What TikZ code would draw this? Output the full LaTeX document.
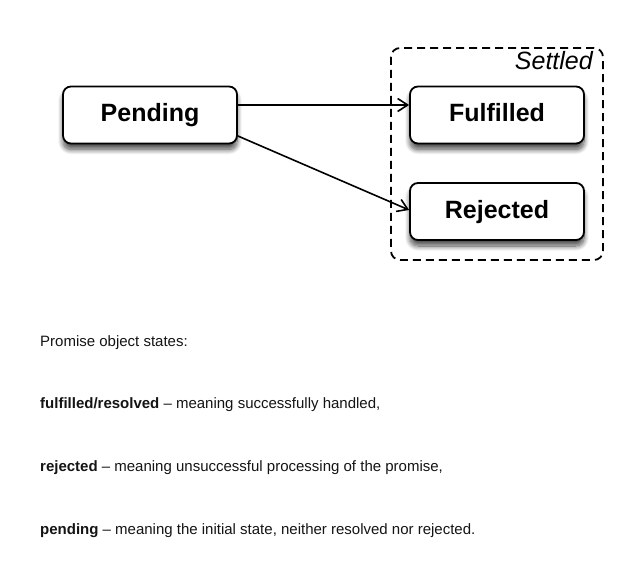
\documentclass[tikz,border=0pt]{standalone}
\usepackage{fontspec}
\setmainfont{Liberation Sans}
\usetikzlibrary{arrows.meta,shadows.blur}
\definecolor{txt}{HTML}{141414}
\tikzset{
  state/.style={draw=black, line width=1.8pt, rounded corners=8pt, fill=white,
    minimum width=174pt, minimum height=57pt, inner sep=0pt,
    text height=18pt, text depth=4pt,
    font=\fontsize{25}{29}\selectfont\bfseries,
    blur shadow={shadow xshift=0pt, shadow yshift=-6pt, shadow opacity=70, shadow blur steps=12, shadow blur radius=5pt}},
  conn/.style={line width=1.6pt, -{Straight Barb[length=10pt,width=13pt,line width=1.6pt]}},
  group/.style={draw=black, line width=1.8pt, dash pattern=on 8pt off 5pt, rounded corners=9pt},
  body/.style={anchor=base west, inner sep=0pt, text=txt, font=\fontsize{15}{18}\selectfont}
}
\begin{document}
\begin{tikzpicture}[x=1pt,y=-1pt]
\useasboundingbox (0,0) rectangle (638,561);
\draw[group] (391,48) rectangle (603,260);
\node[anchor=base east, inner sep=0pt, font=\fontsize{25}{29}\selectfont\itshape] (settled) at (593,70) {Settled};
\node[state] (pending) at (150,115) {Pending};
\node[state] (fulfilled) at (497,115) {Fulfilled};
\node[state] (rejected) at (497,211.5) {Rejected};
\coordinate (p1) at ([yshift=10pt]pending.east);
\coordinate (p2) at ([yshift=-21pt]pending.east);
\draw[conn] (p1) -- (p1 -| fulfilled.west);
\draw[conn] (p2) -- ([yshift=1.5pt]rejected.west);
\node[body] (l1) at (40,346.5) {Promise object states:};
\node[body] (l2) at (40,409) {\textbf{fulfilled/resolved} – meaning successfully handled,};
\node[body] (l3) at (40,471.5) {\textbf{rejected} – meaning unsuccessful processing of the promise,};
\node[body] (l4) at (40,534) {\textbf{pending} – meaning the initial state, neither resolved nor rejected.};
\end{tikzpicture}
\end{document}
